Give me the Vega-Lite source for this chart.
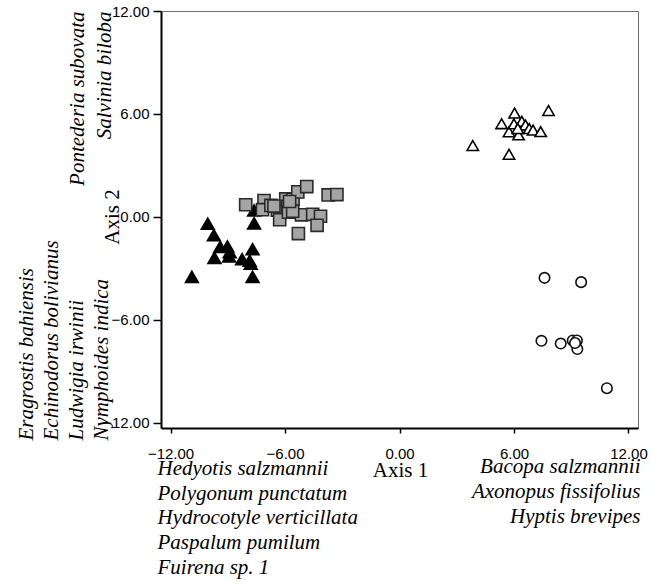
{
  "$schema": "https://vega.github.io/schema/vega-lite/v6.json",
  "width": 477,
  "height": 417,
  "autosize": "none",
  "padding": {"left": 161, "top": 11, "right": 24, "bottom": 157},
  "background": "white",
  "config": {
    "view": {"stroke": "#6e6e6e", "strokeWidth": 1},
    "axis": {"grid": false, "labelFlush": false, "labelOverlap": false, "titleFontWeight": "normal", "titleColor": "#000", "labelColor": "#000"}
  },
  "data": {
    "values": [
      {"x": -10.05, "y": -0.39, "group": "A"},
      {"x": -9.73, "y": -1.06, "group": "A"},
      {"x": -9.4, "y": -1.75, "group": "A"},
      {"x": -9.02, "y": -1.72, "group": "A"},
      {"x": -8.9, "y": -2.05, "group": "A"},
      {"x": -8.93, "y": -2.3, "group": "A"},
      {"x": -9.7, "y": -2.38, "group": "A"},
      {"x": -8.25, "y": -2.46, "group": "A"},
      {"x": -7.8, "y": -2.72, "group": "A"},
      {"x": -7.85, "y": -2.55, "group": "A"},
      {"x": -7.7, "y": -1.88, "group": "A"},
      {"x": -7.62, "y": -0.37, "group": "A"},
      {"x": -7.62, "y": 0.38, "group": "A"},
      {"x": -7.7, "y": -3.49, "group": "A"},
      {"x": -10.88, "y": -3.49, "group": "A"},
      {"x": -8.06, "y": 0.71, "group": "B"},
      {"x": -7.1, "y": 0.95, "group": "B"},
      {"x": -7.18, "y": 0.42, "group": "B"},
      {"x": -6.74, "y": 0.67, "group": "B"},
      {"x": -6.4, "y": 0.4, "group": "B"},
      {"x": -6.28, "y": -0.16, "group": "B"},
      {"x": -5.96, "y": 1.05, "group": "B"},
      {"x": -5.85, "y": 0.62, "group": "B"},
      {"x": -5.82, "y": 0.28, "group": "B"},
      {"x": -5.58, "y": 1.03, "group": "B"},
      {"x": -5.33, "y": 1.46, "group": "B"},
      {"x": -4.86, "y": 1.77, "group": "B"},
      {"x": -5.14, "y": 0.12, "group": "B"},
      {"x": -5.6, "y": 0.33, "group": "B"},
      {"x": -4.55, "y": 0.15, "group": "B"},
      {"x": -4.14, "y": 0.04, "group": "B"},
      {"x": -4.32, "y": -0.49, "group": "B"},
      {"x": -5.3, "y": -0.97, "group": "B"},
      {"x": -3.74, "y": 1.28, "group": "B"},
      {"x": -3.28, "y": 1.3, "group": "B"},
      {"x": -6.58, "y": 0.63, "group": "B"},
      {"x": -5.76, "y": 0.9, "group": "B"},
      {"x": 3.84, "y": 4.16, "group": "C"},
      {"x": 5.74, "y": 3.65, "group": "C"},
      {"x": 5.35, "y": 5.43, "group": "C"},
      {"x": 6.03, "y": 6.05, "group": "C"},
      {"x": 5.74, "y": 4.96, "group": "C"},
      {"x": 6.0, "y": 5.42, "group": "C"},
      {"x": 6.24, "y": 4.78, "group": "C"},
      {"x": 6.41, "y": 5.57, "group": "C"},
      {"x": 6.6, "y": 5.36, "group": "C"},
      {"x": 6.8, "y": 5.15, "group": "C"},
      {"x": 7.0, "y": 5.06, "group": "C"},
      {"x": 7.4, "y": 4.97, "group": "C"},
      {"x": 7.81, "y": 6.2, "group": "C"},
      {"x": 6.2, "y": 5.15, "group": "C"},
      {"x": 7.6, "y": -3.55, "group": "D"},
      {"x": 9.52, "y": -3.8, "group": "D"},
      {"x": 7.44, "y": -7.22, "group": "D"},
      {"x": 8.45, "y": -7.38, "group": "D"},
      {"x": 9.08, "y": -7.2, "group": "D"},
      {"x": 9.3, "y": -7.2, "group": "D"},
      {"x": 9.32, "y": -7.7, "group": "D"},
      {"x": 9.2, "y": -7.35, "group": "D"},
      {"x": 10.87, "y": -9.98, "group": "D"}
    ]
  },
  "resolve": {"axis": {"x": "independent", "y": "independent"}},
  "layer": [
    {
      "mark": {"type": "point", "filled": true, "strokeWidth": 1.6, "opacity": 1},
      "encoding": {
        "x": {
          "field": "x", "type": "quantitative",
          "scale": {"domain": [-12.5, 12.5], "nice": false, "zero": false},
          "axis": {
            "orient": "bottom",
            "values": [-12, -6, 0, 6, 12], "format": ".2f",
            "labelFont": "Liberation Sans", "labelFontSize": 15, "labelPadding": 13,
            "tickSize": 5, "tickColor": "#000", "tickWidth": 1.5,
            "domainColor": "#000", "domainWidth": 2,
            "title": "Axis 1", "titleFont": "Liberation Serif", "titleFontSize": 21,
            "titleX": 239, "titleY": 31.4, "titleAlign": "center", "titleBaseline": "top"
          }
        },
        "y": {
          "field": "y", "type": "quantitative",
          "scale": {"domain": [-12.3, 12], "nice": false, "zero": false},
          "axis": {
            "orient": "left",
            "values": [-12, -6, 0, 6, 12], "format": ".2f",
            "labelFont": "Liberation Sans", "labelFontSize": 15, "labelPadding": 4,
            "tickSize": 8, "tickColor": "#000", "tickWidth": 1.5,
            "domainColor": "#000", "domainWidth": 2,
            "title": "Axis 2", "titleFont": "Liberation Serif", "titleFontSize": 21,
            "titleAngle": 270, "titleX": -59.6, "titleY": 205.5, "titleAlign": "center", "titleBaseline": "top"
          }
        },
        "shape": {
          "field": "group", "type": "nominal",
          "scale": {"domain": ["A", "B", "C", "D"], "range": ["triangle-up", "square", "triangle-up", "circle"]},
          "legend": null
        },
        "fill": {
          "field": "group", "type": "nominal",
          "scale": {"domain": ["A", "B", "C", "D"], "range": ["#000000", "#a4a4a4", "#ffffff", "#ffffff"]},
          "legend": null
        },
        "stroke": {
          "field": "group", "type": "nominal",
          "scale": {"domain": ["A", "B", "C", "D"], "range": ["#000000", "#2a2a2a", "#000000", "#111111"]},
          "legend": null
        },
        "size": {
          "field": "group", "type": "nominal",
          "scale": {"domain": ["A", "B", "C", "D"], "range": [165, 110, 120, 90]},
          "legend": null
        }
      }
    },
    {
      "mark": {"type": "point", "opacity": 0},
      "encoding": {
        "x": {
          "field": "x", "type": "quantitative",
          "scale": {"domain": [-12.5, 12.5], "nice": false, "zero": false},
          "axis": {
            "orient": "bottom", "labels": false, "ticks": false, "domain": false,
            "title": ["Hedyotis salzmannii", "Polygonum punctatum", "Hydrocotyle verticillata", "Paspalum pumilum", "Fuirena sp. 1"],
            "titleFont": "Liberation Serif", "titleFontStyle": "italic", "titleFontSize": 21, "titleLineHeight": 24.75,
            "titleX": -4, "titleY": 29.4, "titleAlign": "left", "titleBaseline": "top"
          }
        },
        "y": {
          "field": "y", "type": "quantitative",
          "scale": {"domain": [-12.3, 12], "nice": false, "zero": false},
          "axis": {
            "orient": "left", "labels": false, "ticks": false, "domain": false,
            "title": ["Eragrostis bahiensis", "Echinodorus bolivianus", "Ludwigia irwinii", "Nymphoides indica"],
            "titleFont": "Liberation Serif", "titleFontStyle": "italic", "titleFontSize": 21, "titleLineHeight": 25,
            "titleAngle": 270, "titleX": -145.9, "titleY": 429, "titleAlign": "left", "titleBaseline": "top"
          }
        }
      }
    },
    {
      "mark": {"type": "point", "opacity": 0},
      "encoding": {
        "x": {
          "field": "x", "type": "quantitative",
          "scale": {"domain": [-12.5, 12.5], "nice": false, "zero": false},
          "axis": {
            "orient": "bottom", "labels": false, "ticks": false, "domain": false,
            "title": ["Bacopa salzmannii", "Axonopus fissifolius", "Hyptis brevipes"],
            "titleFont": "Liberation Serif", "titleFontStyle": "italic", "titleFontSize": 21, "titleLineHeight": 25,
            "titleX": 479, "titleY": 27.4, "titleAlign": "right", "titleBaseline": "top"
          }
        },
        "y": {
          "field": "y", "type": "quantitative",
          "scale": {"domain": [-12.3, 12], "nice": false, "zero": false},
          "axis": {
            "orient": "left", "labels": false, "ticks": false, "domain": false,
            "title": ["Pontederia subovata", "Salvinia biloba"],
            "titleFont": "Liberation Serif", "titleFontStyle": "italic", "titleFontSize": 21, "titleLineHeight": 26.5,
            "titleAngle": 270, "titleX": -94.3, "titleY": 0, "titleAlign": "right", "titleBaseline": "top"
          }
        }
      }
    }
  ]
}
